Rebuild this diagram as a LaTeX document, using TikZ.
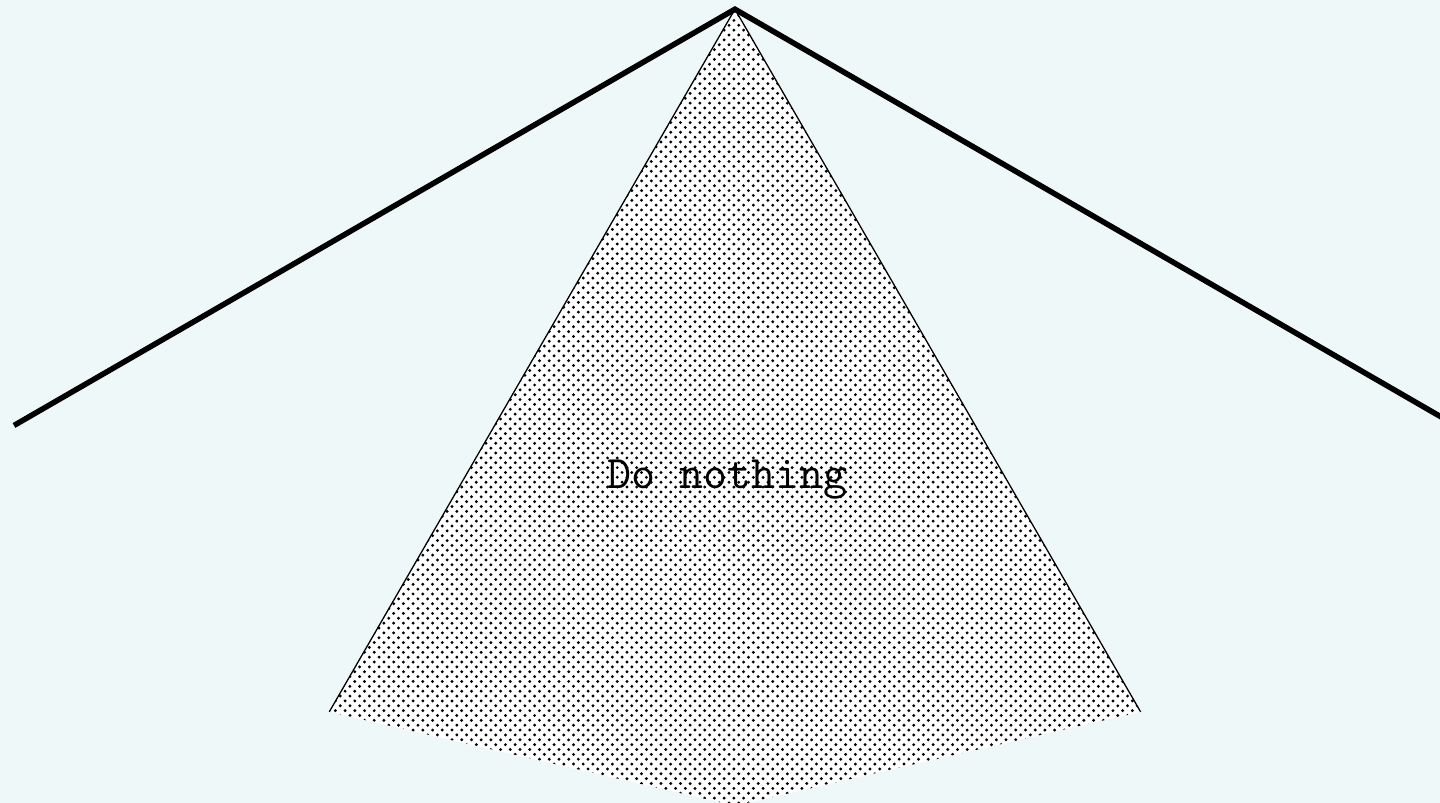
\documentclass[tikz,border=0pt]{standalone}
\usetikzlibrary{patterns}
\definecolor{bgcyan}{RGB}{239,248,248}
\begin{document}
\begin{tikzpicture}[
  roof/.style={line width=1.7pt,black,line join=miter},
  zone/.style={fill=white,postaction={pattern=crosshatch dots,pattern color=black}},
  rim/.style={draw=black,thin},
  lab/.style={font=\Large\ttfamily,inner sep=1pt}]

% Canvas: 1440x803 px at about 92.2 px per cm.
\fill[bgcyan] (0,0) rectangle (15.62,-8.71);
\useasboundingbox (0,0) rectangle (15.62,-8.71);
\clip (0,0) rectangle (15.62,-8.71);

% Apex, dotted region corners and roof ends.
\coordinate (apex) at (7.972,-0.10);
\path (apex) ++(240:8.80) coordinate (zoneL);
\path (apex) ++(300:8.80) coordinate (zoneR);
\path (apex) ++(270:8.64) coordinate (zoneB);
\path (apex) ++(210:9.03) coordinate (roofL);
\path (apex) ++(330:9.03) coordinate (roofR);

% Dotted region, rim only on its two upper sides.
\path[zone] (apex) -- (zoneL) -- (zoneB) -- (zoneR) -- cycle;
\draw[rim] (zoneL) -- (apex) -- (zoneR);

% Roof lines.
\draw[roof] (roofL) -- (apex) -- (roofR);

\node[lab] (donothing) at (7.89,-5.2) {Do nothing};
\end{tikzpicture}
\end{document}
